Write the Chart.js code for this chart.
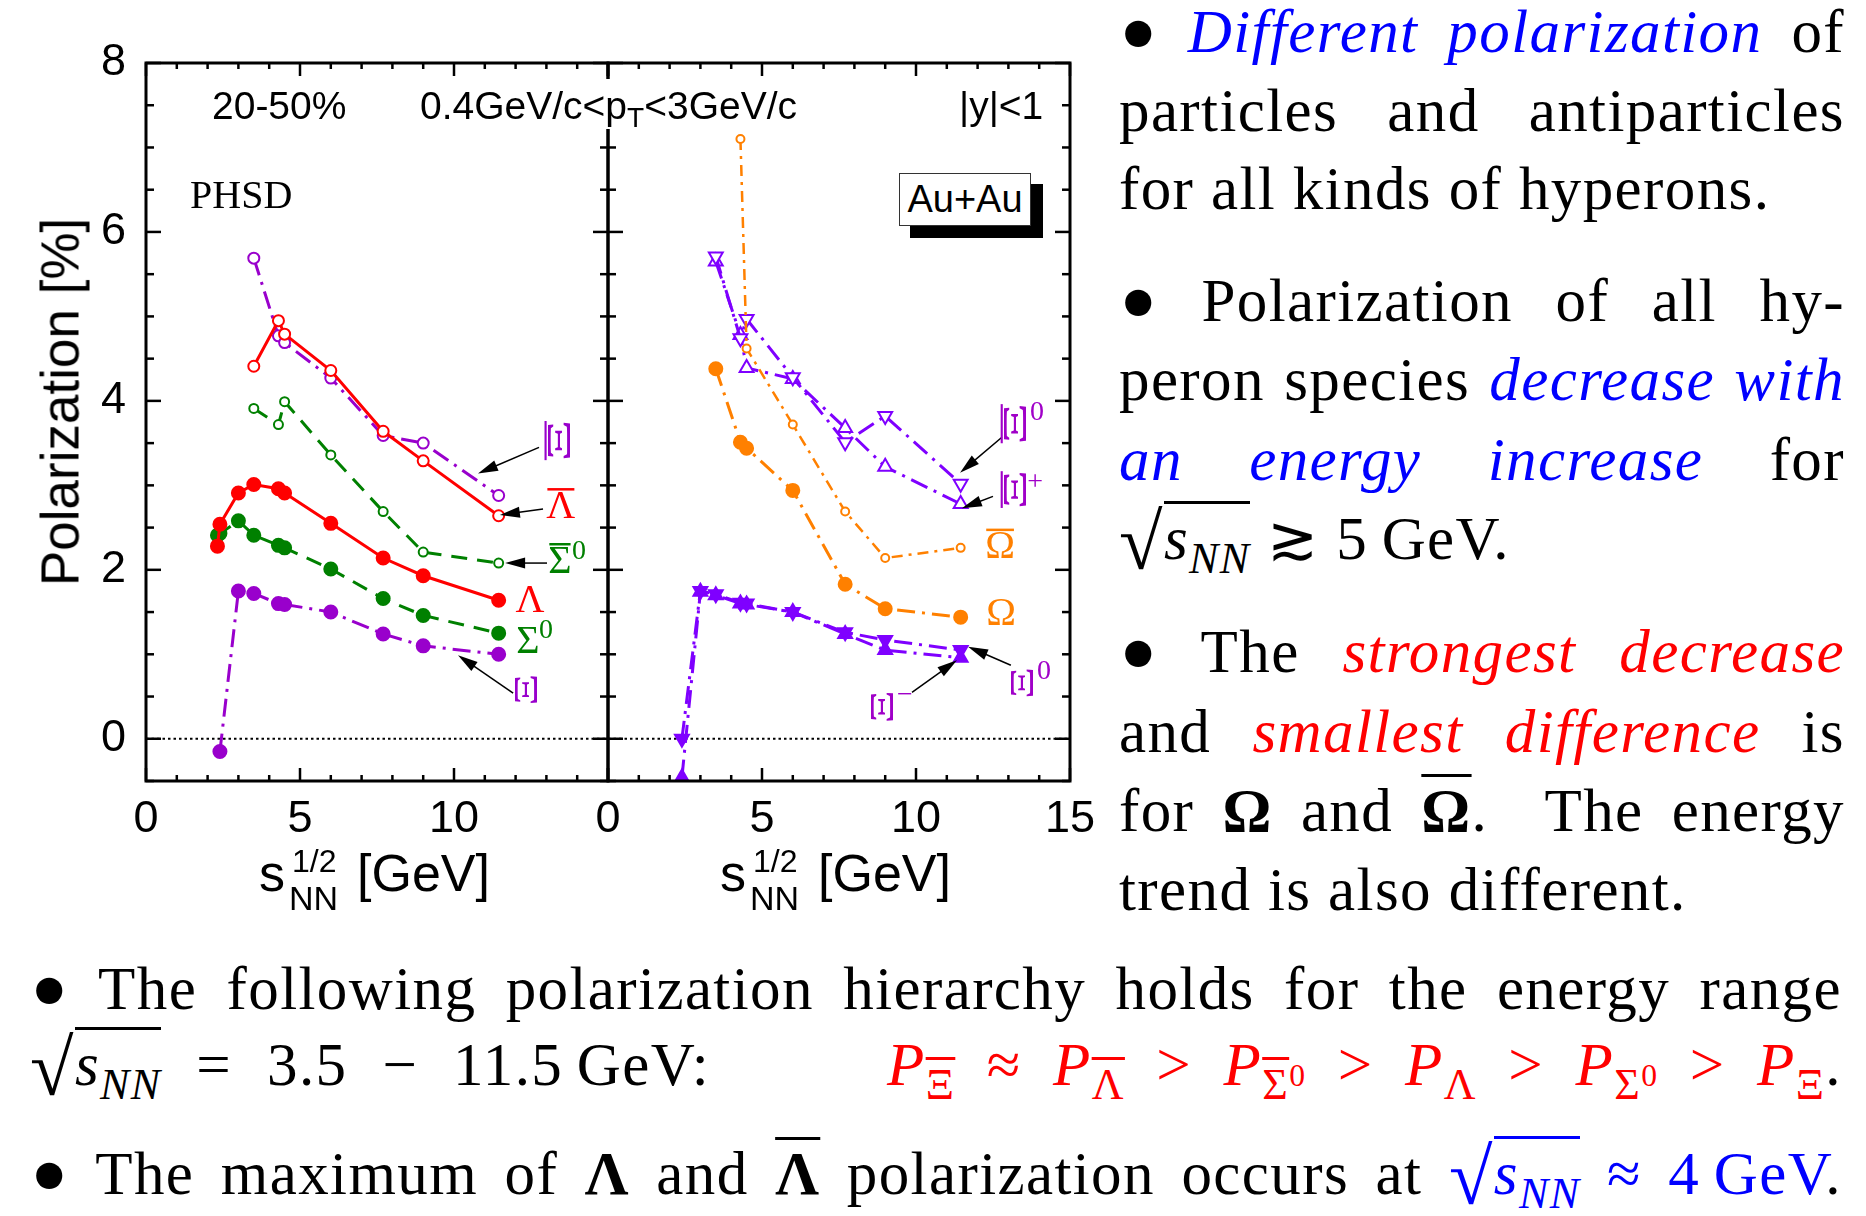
<!DOCTYPE html>
<html><head><meta charset="utf-8">
<script src="https://cdn.jsdelivr.net/npm/chart.js@4"></script>
<style>
html,body{margin:0;padding:0;background:#fff}
body{width:1866px;height:1216px;position:relative;overflow:hidden}
canvas{position:absolute;top:0}
#c1{left:0}
#c2{left:462px}
.a{position:absolute;white-space:nowrap;line-height:1;font-family:'Liberation Sans',Arial,sans-serif;color:#000}
.sf{font-family:'Liberation Serif','Times New Roman',serif}
.ln{position:absolute;font-family:'Liberation Serif',serif;font-size:61px;line-height:1;letter-spacing:1.4px;white-space:nowrap;color:#000}
.bl{color:#0000ff}
.rd{color:#ff0000}
.ov{text-decoration:overline;text-decoration-thickness:3px}
sub,sup{font-size:0.72em;line-height:0;vertical-align:baseline;position:relative}
sub{top:0.32em}
sup{top:-0.42em}
.bul{font-size:1.8em;line-height:0;position:relative;top:0.16em}
.sq{font-size:1.3em;line-height:0;position:relative;top:0.12em}
.rad{border-top:3px solid currentColor;padding-top:1px}
#aushadow{position:absolute;left:910px;top:184px;width:133px;height:54px;background:#000}
#aubox{position:absolute;left:899px;top:173px;width:132px;height:53px;box-sizing:border-box;border:1.5px solid #333;background:#fff;font-family:'Liberation Sans',Arial,sans-serif;font-size:38px;line-height:50px;text-align:center;color:#000}
</style></head>
<body>
<canvas id="c1" width="650" height="900"></canvas>
<canvas id="c2" width="650" height="900"></canvas>

<!-- plot annotations -->
<div class="a" style="left:212px;top:86px;font-size:39px">20-50%</div>
<div class="a" style="left:418px;top:79px;font-size:39px;padding:7px 2px 4px 2px;background:#fff">0.4GeV/c&lt;p<sub style="font-size:0.72em;top:0.3em">T</sub>&lt;3GeV/c</div>
<div class="a" style="left:959px;top:86px;font-size:39px">|y|&lt;1</div>
<div class="a sf" style="left:190px;top:175px;font-size:40px">PHSD</div>
<div id="aushadow"></div>
<div id="aubox">Au+Au</div>

<!-- axis titles -->
<div class="a" style="left:60px;top:402px;font-size:53px;transform:translate(-50%,-50%) rotate(-90deg)">Polarization [%]</div>
<div class="a" style="left:259px;top:847px;font-size:52px">s</div>
<div class="a" style="left:292px;top:845px;font-size:32px">1/2</div>
<div class="a" style="left:289px;top:881px;font-size:34px">NN</div>
<div class="a" style="left:357px;top:847px;font-size:52px">[GeV]</div>
<div class="a" style="left:720px;top:847px;font-size:52px">s</div>
<div class="a" style="left:753px;top:845px;font-size:32px">1/2</div>
<div class="a" style="left:750px;top:881px;font-size:34px">NN</div>
<div class="a" style="left:818px;top:847px;font-size:52px">[GeV]</div>

<!-- text column -->
<div class="ln j" data-w="726" style="left:1119px;top:1px"><span class="bul">•</span> <i class="bl">Different polarization</i> of</div>
<div class="ln j" data-w="726" style="left:1119px;top:80px">particles and antiparticles</div>
<div class="ln" style="left:1119px;top:158px">for all kinds of hyperons.</div>
<div class="ln j" data-w="726" style="left:1119px;top:270px"><span class="bul">•</span> Polarization of all hy-</div>
<div class="ln j" data-w="726" style="left:1119px;top:349px">peron species <i class="bl">decrease with</i></div>
<div class="ln j" data-w="726" style="left:1119px;top:429px"><i class="bl">an energy increase</i> for</div>
<div class="ln" style="left:1119px;top:508px"><span class="sq">√</span><span class="rad"><i>s</i><sub><i>NN</i></sub></span> ≳ 5&#8201;GeV.</div>
<div class="ln j" data-w="726" style="left:1119px;top:621px"><span class="bul">•</span> The <i class="rd">strongest decrease</i></div>
<div class="ln j" data-w="726" style="left:1119px;top:701px">and <i class="rd">smallest difference</i> is</div>
<div class="ln j" data-w="726" style="left:1119px;top:780px">for <b>Ω</b> and <b class="ov">Ω</b>.&#160; The energy</div>
<div class="ln" style="left:1119px;top:859px">trend is also different.</div>
<div class="ln j" data-w="1812" style="left:30px;top:958px"><span class="bul">•</span> The following polarization hierarchy holds for the energy range</div>
<div class="ln j" data-w="680" style="left:30px;top:1034px"><span class="sq">√</span><span class="rad"><i>s</i><sub><i>NN</i></sub></span> = 3.5 − 11.5&#8201;GeV:</div>
<div class="ln j" data-w="955" style="left:887px;top:1034px"><span class="rd"><i>P</i><sub><span class="ov">Ξ</span></sub> ≈ <i>P</i><sub><span class="ov">Λ</span></sub> &gt; <i>P</i><sub><span class="ov">Σ</span><sup>0</sup></sub> &gt; <i>P</i><sub>Λ</sub> &gt; <i>P</i><sub>Σ<sup>0</sup></sub> &gt; <i>P</i><sub>Ξ</sub></span>.</div>
<div class="ln j" data-w="1812" style="left:30px;top:1143px"><span class="bul">•</span> The maximum of <b>Λ</b> and <b class="ov">Λ</b> polarization occurs at <span class="bl"><span class="sq">√</span><span class="rad"><i>s</i><sub><i>NN</i></sub></span> ≈ 4&#8201;GeV</span>.</div>

<script>
// ---------------- data ----------------
const xRange = [0, 15];
const yRange = [-0.5, 8];
const xTickLabelsLeft = [0, 5, 10];
const xTickLabelsRight = [0, 5, 10, 15];
const yTickLabels = [0, 2, 4, 6, 8];

// left panel (particles/antiparticles)
const eLam   = [2.32, 2.4, 3.0, 3.5, 4.3, 4.5, 6.0, 7.7, 9.0, 11.45];
const pLam   = [2.28, 2.54, 2.91, 3.01, 2.96, 2.91, 2.55, 2.14, 1.93, 1.64];
const pSig0  = [2.41, 2.43, 2.58, 2.41, 2.29, 2.26, 2.01, 1.66, 1.46, 1.25];
const eXi    = [2.4, 3.0, 3.5, 4.3, 4.5, 6.0, 7.7, 9.0, 11.45];
const pXi    = [-0.15, 1.75, 1.72, 1.60, 1.59, 1.50, 1.24, 1.10, 1.00];
const eAnti  = [3.5, 4.3, 4.5, 6.0, 7.7, 9.0, 11.45];
const pALam  = [4.41, 4.95, 4.79, 4.36, 3.64, 3.29, 2.64];
const pASig0 = [3.91, 3.72, 3.99, 3.36, 2.69, 2.21, 2.08];
const pAXi   = [5.69, 4.77, 4.69, 4.27, 3.59, 3.50, 2.88];

// right panel
const eOm    = [3.5, 4.3, 4.5, 6.0, 7.7, 9.0, 11.45];
const pOm    = [4.38, 3.51, 3.44, 2.94, 1.83, 1.54, 1.44];
const eAOm   = [4.3, 4.5, 6.0, 7.7, 9.0, 11.45];
const pAOm   = [7.10, 4.62, 3.72, 2.69, 2.14, 2.26];
const eAXiR  = [3.5, 4.3, 4.5, 6.0, 7.7, 9.0, 11.45];
const pAXi0  = [5.71, 4.74, 4.97, 4.28, 3.51, 3.82, 3.02];
const pAXiP  = [5.65, 4.78, 4.39, 4.26, 3.68, 3.22, 2.78];
const eXiR   = [2.4, 3.0, 3.5, 4.3, 4.5, 6.0, 7.7, 9.0, 11.45];
const pXi0   = [0.0, 1.75, 1.71, 1.61, 1.60, 1.50, 1.26, 1.17, 1.05];
const pXiM   = [-0.46, 1.74, 1.70, 1.60, 1.59, 1.50, 1.24, 1.05, 0.96];

// ---------------- styles ----------------
const RED = '#ff0000', GREEN = '#008000', PURPLE = '#9900cc', VIOLET = '#7f00ff', ORANGE = '#ff8000', XILAB = '#a000c8';
const DASH = [16, 10], DASHDOT = [18, 7, 3, 7], DDOT = [11, 6, 3, 6];

function pts(xs, ys) { return xs.map((x, i) => ({x: x, y: ys[i]})); }
function series(xs, ys, color, o) {
  return Object.assign({
    data: pts(xs, ys), showLine: true, tension: 0, fill: false,
    borderColor: color, borderWidth: 3, borderDash: [],
    pointStyle: 'circle', pointRadius: 6.5, pointBorderWidth: 2,
    pointBorderColor: color, pointBackgroundColor: color, pointRotation: 0
  }, o || {});
}

const leftSets = [
  series(eLam, pLam, RED),
  series(eLam, pSig0, GREEN, {borderDash: DASH}),
  series(eXi, pXi, PURPLE, {borderDash: DASHDOT}),
  series(eAnti, pALam, RED, {pointRadius: 5.5, pointBackgroundColor: '#fff'}),
  series(eAnti, pASig0, GREEN, {borderDash: DASH, pointRadius: 4.5, pointBackgroundColor: '#fff'}),
  series(eAnti, pAXi, PURPLE, {borderDash: DASHDOT, pointRadius: 5.5, pointBackgroundColor: '#fff'})
];
const rightSets = [
  series(eXiR, pXi0, VIOLET, {borderDash: DASHDOT, pointStyle: 'triangle', pointRotation: 180, pointRadius: 8}),
  series(eXiR, pXiM, VIOLET, {borderDash: DASHDOT, pointStyle: 'triangle', pointRadius: 8}),
  series(eOm, pOm, ORANGE, {borderDash: DASHDOT}),
  series(eAOm, pAOm, ORANGE, {borderDash: DDOT, borderWidth: 2.5, pointRadius: 4, pointBackgroundColor: '#fff'}),
  series(eAXiR, pAXi0, VIOLET, {borderDash: DASHDOT, pointStyle: 'triangle', pointRotation: 180, pointRadius: 8, pointBackgroundColor: '#fff'}),
  series(eAXiR, pAXiP, VIOLET, {borderDash: DASHDOT, pointStyle: 'triangle', pointRadius: 8, pointBackgroundColor: '#fff'})
];

// curve labels (data coordinates) and arrows
const leftLabels = [
  {text: 'Ξ', x: 13.47, y: 3.53, color: PURPLE, rot: true, len: 1.65, bar: true},
  {text: 'Λ', x: 13.47, y: 2.74, color: RED, bar: true},
  {text: 'Σ', x: 13.44, y: 2.09, color: GREEN, bar: true, sup: '0', sx: 19, sy: -11},
  {text: 'Λ', x: 12.47, y: 1.62, color: RED},
  {text: 'Σ', x: 12.40, y: 1.14, color: GREEN, sup: '0', sx: 18, sy: -12},
  {text: 'Ξ', x: 12.40, y: 0.58, color: PURPLE, rot: true, len: 1.25}
];
const leftArrows = [
  [12.76, 3.45, 10.78, 3.14],
  [12.89, 2.72, 11.49, 2.65],
  [13.02, 2.08, 11.66, 2.08],
  [11.92, 0.54, 10.13, 0.99]
];
const rightLabels = [
  {text: 'Ξ', x: 13.28, y: 3.73, color: XILAB, rot: true, len: 1.65, bar: true, sup: '0', sx: 20, sy: -11},
  {text: 'Ξ', x: 13.28, y: 2.95, color: XILAB, rot: true, len: 1.55, bar: true, sup: '+', sx: 18, sy: -7},
  {text: 'Ω', x: 12.73, y: 2.26, color: ORANGE, bar: true},
  {text: 'Ω', x: 12.76, y: 1.47, color: ORANGE},
  {text: 'Ξ', x: 13.51, y: 0.66, color: XILAB, rot: true, len: 1.25, sup: '0', sx: 20, sy: -11},
  {text: 'Ξ', x: 8.96, y: 0.38, color: XILAB, rot: true, len: 1.3, sup: '−', sx: 21, sy: -11}
];
const rightArrows = [
  [12.79, 3.57, 11.43, 3.15],
  [12.50, 2.87, 11.49, 2.73],
  [13.08, 0.87, 11.69, 1.09],
  [9.87, 0.55, 11.33, 0.93]
];

function drawArrow(ctx, x1, y1, x2, y2) {
  const ang = Math.atan2(y2 - y1, x2 - x1), L = 20, W = 5.5;
  const c = Math.cos(ang), s = Math.sin(ang);
  ctx.save();
  ctx.strokeStyle = '#000'; ctx.fillStyle = '#000'; ctx.lineWidth = 1.5; ctx.setLineDash([]);
  ctx.beginPath(); ctx.moveTo(x1, y1); ctx.lineTo(x2 - L * 0.7 * c, y2 - L * 0.7 * s); ctx.stroke();
  ctx.beginPath(); ctx.moveTo(x2, y2);
  ctx.lineTo(x2 - L * c + W * s, y2 - L * s - W * c);
  ctx.lineTo(x2 - L * c - W * s, y2 - L * s + W * c);
  ctx.closePath(); ctx.fill();
  ctx.restore();
}

const decoPlugin = {
  id: 'deco',
  beforeDatasetsDraw(chart) {
    const {ctx, chartArea: a, scales: {y}} = chart;
    const yz = y.getPixelForValue(0);
    ctx.save();
    ctx.strokeStyle = '#000'; ctx.lineWidth = 2; ctx.setLineDash([2.5, 3]);
    ctx.beginPath(); ctx.moveTo(a.left, yz); ctx.lineTo(a.right, yz); ctx.stroke();
    ctx.restore();
  },
  afterDatasetsDraw(chart, args, opts) {
    const {ctx, chartArea: a, scales: {x, y}} = chart;
    ctx.save();
    ctx.strokeStyle = '#000'; ctx.setLineDash([]); ctx.lineWidth = 2.5;
    const line = (x1, y1, x2, y2) => { ctx.beginPath(); ctx.moveTo(x1, y1); ctx.lineTo(x2, y2); ctx.stroke(); };
    x.ticks.forEach(t => {
      const px = x.getPixelForValue(t.value), L = (t.value % 5 === 0) ? 13 : 6;
      line(px, a.bottom, px, a.bottom - L); line(px, a.top, px, a.top + L);
    });
    y.ticks.forEach(t => {
      const py = y.getPixelForValue(t.value), L = (t.value % 2 === 0) ? 15 : 8;
      line(a.left, py, a.left + L, py); line(a.right, py, a.right - L, py);
    });
    ctx.lineWidth = 3;
    ctx.strokeRect(a.left, a.top, a.right - a.left, a.bottom - a.top);
    ctx.restore();

    (opts.arrows || []).forEach(r => drawArrow(ctx, x.getPixelForValue(r[0]), y.getPixelForValue(r[1]), x.getPixelForValue(r[2]), y.getPixelForValue(r[3])));

    (opts.labels || []).forEach(L => {
      const px = x.getPixelForValue(L.x), py = y.getPixelForValue(L.y);
      ctx.save();
      ctx.fillStyle = L.color; ctx.strokeStyle = L.color;
      ctx.textAlign = 'center'; ctx.textBaseline = 'middle';
      ctx.font = '40px "Liberation Serif"';
      ctx.translate(px, py);
      if (L.rot) { ctx.rotate(-Math.PI / 2); ctx.scale(L.len || 1.2, 0.85); }
      ctx.fillText(L.text, 0, 0);
      const w = ctx.measureText(L.text).width;
      if (L.bar) {
        ctx.lineWidth = 2.5;
        ctx.beginPath(); ctx.moveTo(-w / 2 + 1, -18); ctx.lineTo(w / 2 - 1, -18); ctx.stroke();
      }
      ctx.restore();
      if (L.sup) {
        ctx.save();
        ctx.fillStyle = L.color; ctx.font = '28px "Liberation Serif"';
        ctx.textAlign = 'center'; ctx.textBaseline = 'middle';
        ctx.fillText(L.sup, px + L.sx, py + L.sy);
        ctx.restore();
      }
    });
  }
};

Chart.defaults.font.family = "'Liberation Sans', Arial, sans-serif";
Chart.defaults.color = '#000';

function makeChart(id, datasets, xLabels, showY, labels, arrows) {
  return new Chart(document.getElementById(id), {
    type: 'scatter',
    data: {datasets: datasets},
    options: {
      responsive: false, animation: false, events: [],
      layout: {padding: {top: 63, right: 42, bottom: 0, left: 0}},
      plugins: {legend: {display: false}, tooltip: {enabled: false}, deco: {labels: labels, arrows: arrows}},
      scales: {
        x: {
          type: 'linear', min: xRange[0], max: xRange[1],
          afterFit(s) { s.height = 119; },
          grid: {display: false, drawTicks: false}, border: {display: false},
          ticks: {stepSize: 1, autoSkip: false, maxRotation: 0, minRotation: 0, padding: 12,
                  font: {size: 45}, color: '#000',
                  callback: v => xLabels.includes(v) ? String(v) : ''}
        },
        y: {
          type: 'linear', min: yRange[0], max: yRange[1],
          afterFit(s) { s.width = 146; },
          grid: {display: false, drawTicks: false}, border: {display: false},
          ticks: {stepSize: 0.5, autoSkip: false, padding: 20, font: {size: 45}, color: '#000',
                  callback: v => (showY && yTickLabels.includes(v)) ? String(v) : ''}
        }
      }
    },
    plugins: [decoPlugin]
  });
}

makeChart('c1', leftSets, xTickLabelsLeft, true, leftLabels, leftArrows);
makeChart('c2', rightSets, xTickLabelsRight, false, rightLabels, rightArrows);

// justify text lines to their target widths
function justify() {
  document.querySelectorAll('.j').forEach(el => {
    el.style.wordSpacing = '0px';
    const target = +el.dataset.w;
    const w = el.getBoundingClientRect().width;
    const n = (el.textContent.match(/[ \u00a0]/g) || []).length;
    if (n) el.style.wordSpacing = ((target - w) / n) + 'px';
  });
}
justify();
if (document.fonts && document.fonts.ready) document.fonts.ready.then(justify);
</script>
</body></html>
